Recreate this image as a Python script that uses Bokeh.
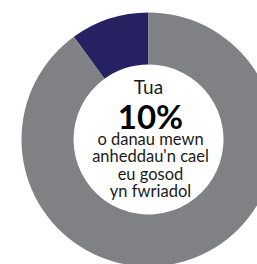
import math
from bokeh.plotting import figure
from bokeh.models import Range1d
from bokeh.core.properties import value
from bokeh.embed import file_html
from bokeh.resources import INLINE

# Data
labels = ["Tanau bwriadol", "Eraill"]
shares = [10, 90]
colors = ["#262262", "#808184"]
center_lines = ["o danau mewn", "anheddau'n cael", "eu gosod", "yn fwriadol"]
headline_pre = "Tua"
headline_value = "10%"

W, H = 257, 264
p = figure(width=W, height=H, output_backend="svg", toolbar_location=None,
           x_range=Range1d(0, W), y_range=Range1d(0, H),
           min_border=0, outline_line_color=None)
p.axis.visible = False
p.grid.visible = False
p.background_fill_color = "white"
p.border_fill_color = "white"

cx, cy = 148, H - 139
r_out, r_in = 127, 75

total = sum(shares)
start = 90.0
starts, ends = [], []
for s in shares:
    a0 = start
    a1 = start + 360.0 * s / total
    starts.append(math.radians(a0))
    ends.append(math.radians(a1))
    start = a1

p.annular_wedge(x=[cx] * len(shares), y=[cy] * len(shares), inner_radius=r_in, outer_radius=r_out,
                start_angle=starts, end_angle=ends, direction="anticlock",
                fill_color=colors, line_color=None)

font = "Lato"
p.text(x=[cx], y=[H - 86], text=[headline_pre], text_align="center", text_baseline="alphabetic",
       text_font=value(font), text_font_size="19px", text_color="#1a1a1a")
p.text(x=[cx + 2], y=[H - 115], text=[headline_value], text_align="center", text_baseline="alphabetic",
       text_font=value(font), text_font_size="33px", text_font_style="bold", text_color="#000000")
ys = [138.5, 155.5, 173, 190.5]
p.text(x=[cx + 2] * 4, y=[H - y for y in ys], text=center_lines, text_align="center",
       text_baseline="alphabetic", text_font=value(font), text_font_size="16.5px", text_color="#1a1a1a")

open("out.html", "w").write(file_html(p, INLINE))
